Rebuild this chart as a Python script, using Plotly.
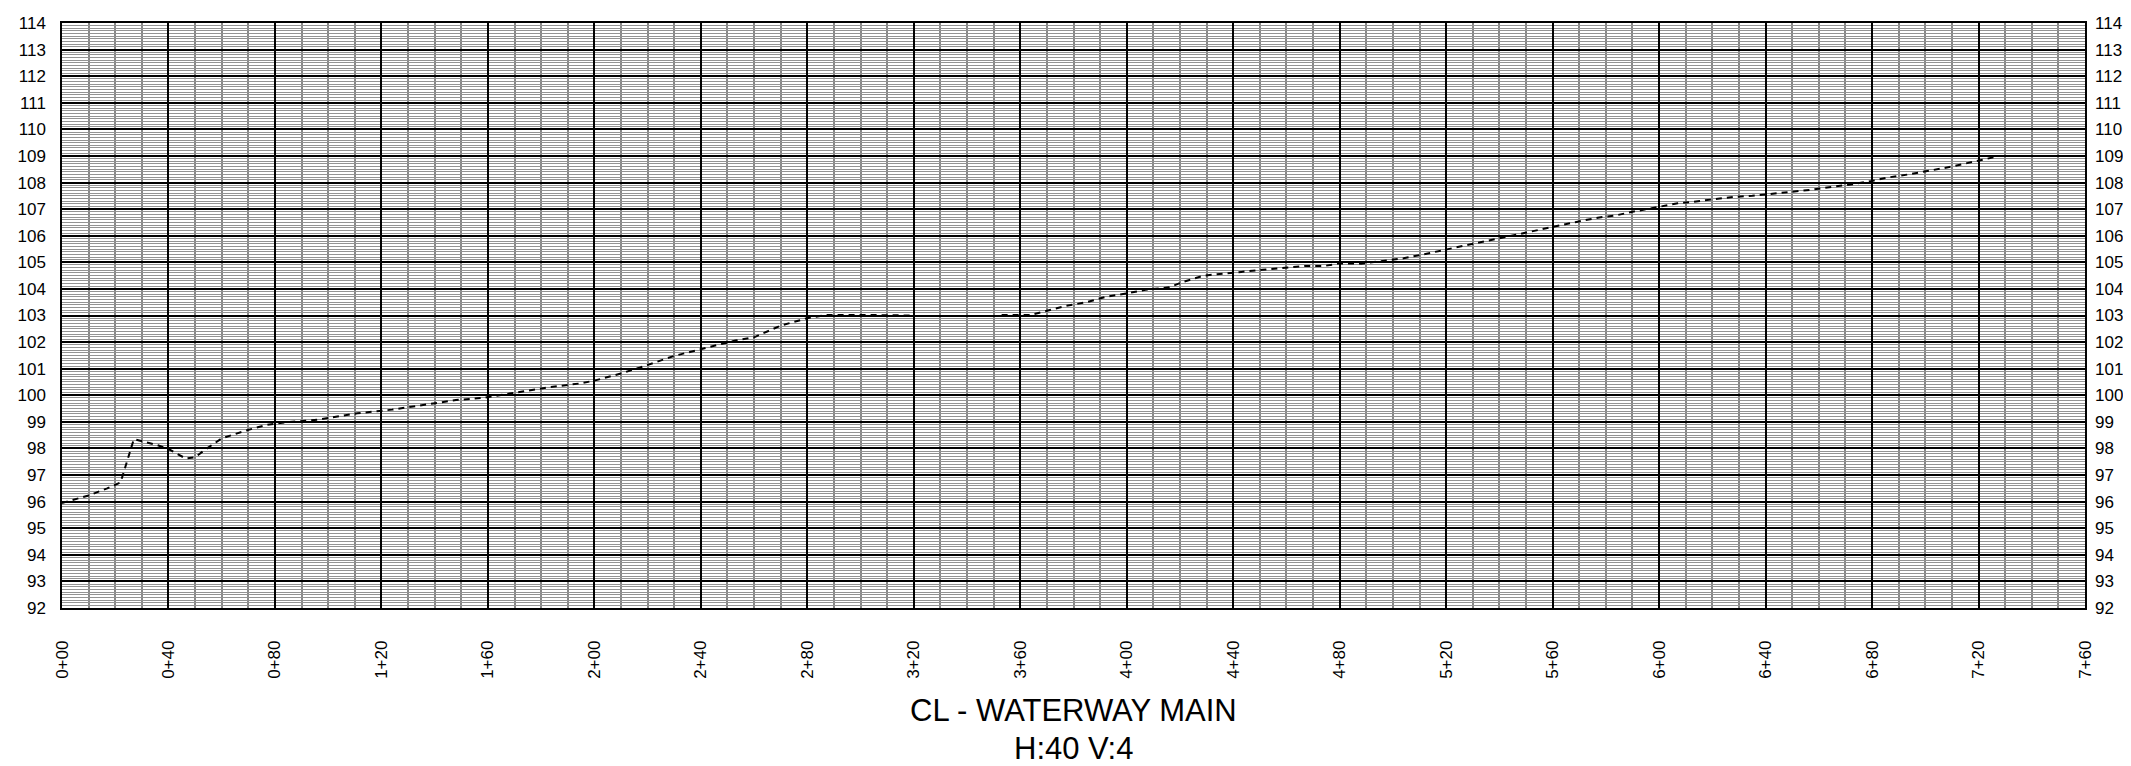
import plotly.graph_objects as go

# Profile data: station (ft) and elevation (ft); None marks the gap
stations = [0, 10, 17, 22, 27, 36, 40.5, 46.5, 50, 54, 60, 69, 77, 84, 96, 111, 124, 136, 148,
            158, 170, 183, 195, 200, 210, 217, 230, 240, 253, 260, 270, 280, 287, 302, 320,
            336,
            353, 364, 369, 377, 385, 392, 400, 407, 416, 421, 429, 436, 443, 451, 458, 467, 474,
            480, 488, 498, 504, 511, 518, 525, 532, 541, 548, 555, 561, 569, 577, 584, 590, 597,
            601, 607, 613, 620, 628, 635, 642, 650, 658, 665, 673, 680, 686, 694, 701, 710, 718, 727]
elevations = [95.95, 96.23, 96.5, 96.72, 98.35, 98.12, 97.95, 97.62, 97.67, 97.97, 98.38, 98.67,
              98.89, 98.98, 99.08, 99.32, 99.46, 99.65, 99.82,
              99.9, 100.09, 100.3, 100.45, 100.55, 100.82, 101.04, 101.48, 101.73, 102.06, 102.18,
              102.62, 102.9, 103.02, 103.02, 103.0,
              None,
              103.02, 103.02, 103.15, 103.36, 103.5, 103.7, 103.83, 103.97, 104.06, 104.26, 104.5,
              104.56, 104.64, 104.72, 104.79, 104.86, 104.86,
              104.96, 104.95, 105.09, 105.15, 105.29, 105.44, 105.58, 105.75, 105.92, 106.07, 106.22,
              106.37, 106.52, 106.68, 106.77, 106.9, 107.03,
              107.13, 107.22, 107.28, 107.36, 107.46, 107.5, 107.57, 107.65, 107.74, 107.84, 107.94,
              108.06, 108.19, 108.31, 108.44, 108.6, 108.78, 108.98]

x_tick_vals = list(range(0, 761, 40))
x_tick_text = ["0+00", "0+40", "0+80", "1+20", "1+60", "2+00", "2+40", "2+80", "3+20", "3+60",
               "4+00", "4+40", "4+80", "5+20", "5+60", "6+00", "6+40", "6+80", "7+20", "7+60"]
y_tick_vals = list(range(92, 115))

title_line1 = "CL - WATERWAY MAIN"
title_line2 = "H:40 V:4"

FONT = "Liberation Sans, Arial, sans-serif"

fig = go.Figure()
fig.add_trace(go.Scatter(x=stations, y=elevations, mode="lines", connectgaps=False,
                         line=dict(color="black", width=2, dash="6px,5px"),
                         showlegend=False, hoverinfo="skip"))
# invisible trace to make the right-hand axis render
fig.add_trace(go.Scatter(x=[stations[0]], y=[elevations[0]], yaxis="y2", mode="markers",
                         marker=dict(opacity=0), showlegend=False, hoverinfo="skip"))

fig.update_layout(
    width=2131, height=766,
    margin=dict(l=54, r=54, t=15, b=166),
    paper_bgcolor="white", plot_bgcolor="white",
    font=dict(family=FONT, color="black", size=17),
    xaxis=dict(range=[0, 760], tickmode="array", tickvals=x_tick_vals, ticktext=x_tick_text,
               tickangle=-90, showgrid=True, gridcolor="black", gridwidth=1.5,
               minor=dict(tickmode="linear", tick0=0, dtick=10, showgrid=True,
                          gridcolor="#888888", gridwidth=2),
               showline=True, linecolor="black", linewidth=1.5, mirror=True,
               ticks="", ticklabelstandoff=24, zeroline=False, automargin=False,
               tickfont=dict(size=17)),
    yaxis=dict(range=[92, 114], tickmode="array", tickvals=y_tick_vals,
               showgrid=True, gridcolor="black", gridwidth=1.5,
               minor=dict(tickmode="linear", tick0=92, dtick=0.1, showgrid=True,
                          gridcolor="#939393", gridwidth=1),
               showline=True, linecolor="black", linewidth=1.5, mirror=True,
               ticks="", ticklabelstandoff=11, zeroline=False, automargin=False,
               tickfont=dict(size=17)),
    yaxis2=dict(range=[92, 114], overlaying="y", side="right", tickmode="array",
                tickvals=y_tick_vals, showgrid=False, zeroline=False, ticks="",
                ticklabelstandoff=9, automargin=False, tickfont=dict(size=17)),
    annotations=[
        dict(text=title_line1, x=0.5, xref="paper", y=-0.176, yref="paper",
             xanchor="center", yanchor="middle", showarrow=False,
             font=dict(size=31, family=FONT, color="black")),
        dict(text=title_line2, x=0.5, xref="paper", y=-0.240, yref="paper",
             xanchor="center", yanchor="middle", showarrow=False,
             font=dict(size=31, family=FONT, color="black")),
    ],
)

fig.write_html("out.html")
